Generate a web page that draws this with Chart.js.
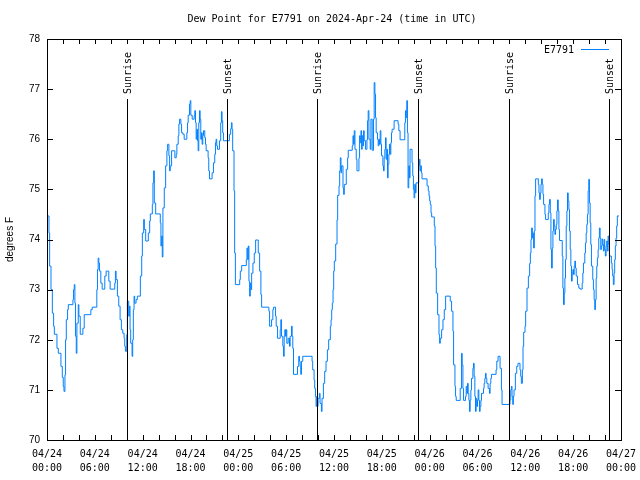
<!DOCTYPE html>
<html>
<head>
<meta charset="utf-8">
<script src="https://cdn.jsdelivr.net/npm/chart.js@4.4.1/dist/chart.umd.min.js"></script>
<style>
  body { margin: 0; background: #fff; }
</style>
</head>
<body>
<canvas id="grafica" width="640" height="480"></canvas>
<script>
// horas desde 04/24 00:00 UTC
const horas = [
  0.0, 0.25, 0.33, 0.5, 0.67, 0.83, 0.92, 1.25, 1.42, 1.75, 1.92, 2.04, 2.13, 2.25, 2.33, 2.42, 2.58, 2.67,
  3.25, 3.33, 3.42, 3.5, 3.58, 3.67, 3.75, 3.92, 4.0, 4.17, 4.5, 4.67, 5.5, 5.67, 6.25, 6.33, 6.42, 6.5,
  6.58, 6.75, 6.92, 7.25, 7.42, 7.75, 7.92, 8.5, 8.58, 8.67, 8.83, 9.0, 9.17, 9.33, 9.5, 9.67, 9.75, 9.83,
  10.0, 10.08, 10.25, 10.33, 10.42, 10.5, 10.67, 10.75, 10.83, 10.92, 11.0, 11.17, 11.33, 11.71, 11.88,
  11.96, 12.13, 12.21, 12.38, 12.71, 12.88, 12.96, 13.21, 13.29, 13.38, 13.46, 13.63, 14.21, 14.29, 14.38,
  14.46, 14.54, 14.71, 14.88, 15.04, 15.13, 15.29, 15.38, 15.46, 15.63, 16.04, 16.21, 16.29, 16.46, 16.54,
  16.63, 16.79, 16.88, 17.04, 17.21, 17.54, 17.63, 17.71, 17.88, 17.96, 18.04, 18.21, 18.46, 18.54, 18.63,
  18.71, 18.79, 18.88, 18.96, 19.04, 19.13, 19.21, 19.29, 19.38, 19.46, 19.54, 19.63, 19.79, 19.88, 19.96,
  20.21, 20.29, 20.38, 20.71, 20.88, 21.04, 21.13, 21.21, 21.29, 21.38, 21.63, 21.79, 21.88, 21.96, 22.04,
  22.13, 22.88, 23.04, 23.13, 23.21, 23.29, 23.46, 23.54, 23.63,
  24.17, 24.25, 24.42, 25.0, 25.08, 25.17, 25.25, 25.33, 25.42, 25.5, 25.58, 25.67, 25.83, 26.0, 26.17,
  26.5, 26.67, 26.83, 26.92, 27.83, 27.92, 28.17, 28.33, 28.42, 28.67, 28.75, 28.92, 29.25, 29.33, 29.42,
  29.58, 29.67, 29.75, 29.83, 29.92, 30.0, 30.08, 30.25, 30.42, 30.5, 30.67, 30.75, 30.83, 30.92, 31.42,
  31.58, 31.67, 31.75, 31.83, 31.92, 32.08, 33.25, 33.33, 33.5, 33.58, 33.67, 33.75, 33.83, 33.92, 34.0,
  34.17, 34.25, 34.42, 34.5, 34.67, 34.83, 35.0, 35.17, 35.33, 35.54, 35.63, 35.71, 35.79, 35.88, 35.96,
  36.04, 36.21, 36.38, 36.46, 36.63, 36.71, 36.79, 36.88, 36.96, 37.13, 37.21, 37.29, 37.54, 37.71, 37.79,
  38.29, 38.38, 38.46, 38.54, 38.63, 38.79, 38.88, 39.13, 39.21, 39.29, 39.38, 39.46, 39.54, 39.63, 39.71,
  39.79, 39.96, 40.13, 40.21, 40.29, 40.38, 40.54, 40.63, 40.79, 40.96, 41.04, 41.13, 41.21, 41.29, 41.46,
  41.54, 41.63, 41.71, 41.79, 41.88, 41.96, 42.13, 42.21, 42.29, 42.38, 42.46, 42.54, 42.63, 42.71, 42.79,
  42.88, 42.96, 43.04, 43.13, 43.21, 43.29, 43.54, 44.04, 44.13, 44.29, 44.88, 44.96, 45.04, 45.13, 45.21,
  45.29, 45.38, 45.46, 45.54, 45.79, 45.88, 45.96, 46.04, 46.13, 46.21, 46.29, 46.63, 46.71, 46.79, 46.88,
  46.96, 47.04, 47.67, 47.83, 47.92, 48.0, 48.08, 48.17, 48.25, 48.58, 48.67, 48.75, 48.83, 49.0, 49.17,
  49.25, 49.33, 49.5, 49.67, 49.83, 50.0, 50.58, 50.75, 50.92, 51.0, 51.17, 51.25, 51.33, 51.83, 52.0,
  52.08, 52.17, 52.25, 52.5, 52.58, 52.67, 52.75, 52.83, 52.92, 53.0, 53.08, 53.17, 53.25, 53.42, 53.5,
  53.58, 53.67, 53.75, 53.83, 53.92, 54.0, 54.08, 54.17, 54.25, 54.33, 54.42, 54.5, 54.75, 54.83, 54.92,
  55.0, 55.08, 55.17, 55.33, 55.5, 55.58, 55.67, 55.75, 56.33, 56.42, 56.58, 56.83, 57.0, 57.08, 58.08,
  58.17, 58.25, 58.33, 58.42, 58.5, 58.58, 58.75, 58.92, 59.08, 59.33, 59.42, 59.5, 59.63, 59.71, 59.79,
  59.96, 60.04, 60.21, 60.38, 60.54, 60.63, 60.71, 60.79, 60.88, 60.96, 61.04, 61.13, 61.21, 61.29, 61.63,
  61.71, 61.79, 61.88, 61.96, 62.04, 62.13, 62.21, 62.29, 62.46, 62.54, 62.88, 62.96, 63.04, 63.13, 63.21,
  63.29, 63.38, 63.46, 63.54, 63.63, 63.71, 63.79, 63.88, 63.96, 64.04, 64.13, 64.21, 64.29, 64.63, 64.71,
  64.79, 64.88, 64.96, 65.04, 65.13, 65.21, 65.29, 65.38, 65.46, 65.54, 65.63, 65.71, 65.79, 65.88, 65.96,
  66.04, 66.13, 66.21, 66.29, 66.38, 66.54, 66.71, 66.88, 67.13, 67.21, 67.29, 67.46, 67.54, 67.63, 67.71,
  67.79, 67.88, 67.96, 68.04, 68.13, 68.21, 68.29, 68.46, 68.54, 68.63, 68.71, 68.79, 68.88, 68.96, 69.04,
  69.13, 69.21, 69.29, 69.38, 69.46, 69.54, 69.63, 69.71, 69.79, 69.88, 69.96, 70.04, 70.13, 70.21, 70.29,
  70.38, 70.46, 70.54, 70.79, 70.88, 70.96, 71.04, 71.13, 71.21, 71.29, 71.38, 71.46, 71.54, 71.75
];

// punto de rocio, grados F
const rocio = [
  74.47, 74.13, 73.47, 73.0, 72.53, 72.27, 72.11, 71.83, 71.73, 71.47, 71.25, 71.07, 70.97, 71.3, 72.0, 72.4, 72.6, 72.7,
  72.8, 73.0, 73.1, 72.73, 72.07, 71.73, 72.33, 72.7, 72.47, 72.11, 72.23, 72.5, 72.6, 72.65, 73.0, 73.4, 73.63, 73.53,
  73.37, 73.13, 73.01, 73.27, 73.37, 73.17, 73.01, 73.13, 73.37, 73.2, 72.87, 72.67, 72.4, 72.2, 72.13, 72.03, 71.87, 71.77,
  72.1, 72.77, 72.47, 72.67, 72.2, 71.93, 71.67, 72.0, 72.6, 72.87, 72.73, 72.8, 72.87, 73.27, 73.67,
  74.13, 74.4, 74.2, 73.97, 74.13, 74.37, 74.51, 74.7, 75.13, 75.37, 74.73, 74.51, 74.33, 73.87, 74.07,
  73.65, 74.63, 75.03, 75.47, 75.77, 75.9, 75.67, 75.37, 75.47, 75.77, 75.63, 75.7, 75.9, 76.07, 76.3,
  76.4, 76.3, 76.13, 76.1, 76.0, 76.13, 76.33, 76.48, 76.7, 76.77, 76.48, 76.4, 76.47, 76.57, 76.33,
  76.0, 76.2, 75.97, 75.77, 76.33, 76.57, 76.4, 76.0, 76.13, 75.9, 76.07, 76.17, 76.03, 75.9, 75.77,
  75.63, 75.37, 75.21, 75.33, 75.53, 75.7, 75.93, 76.0, 75.87, 75.8, 75.97, 76.33, 76.55, 76.37, 76.13,
  75.97, 76.1, 76.21, 76.33, 76.2, 75.77, 74.97, 73.73, 73.1,
  73.2, 73.37, 73.48, 73.6, 73.83, 73.6, 73.87, 73.17, 72.87, 73.13, 73.0, 73.33, 73.53, 73.73, 73.99,
  73.73, 73.37, 72.9, 72.65, 72.57, 72.27, 72.4, 72.6, 72.65, 72.47, 72.27, 72.03, 72.2, 72.4, 72.07,
  71.87, 71.67, 72.07, 72.2, 72.07, 72.2, 71.93, 72.03, 71.87, 72.07, 72.27, 72.07, 71.83, 71.31, 71.47,
  71.67, 71.57, 71.47, 71.31, 71.57, 71.67, 71.57, 71.4, 71.2, 71.03, 70.87, 70.67, 70.87, 70.67, 70.83,
  70.93, 70.73, 70.57, 70.83, 71.13, 71.37, 71.57, 71.8, 72.0, 72.27, 72.4, 72.6, 72.73, 73.0, 73.37,
  73.57, 73.91, 74.39, 74.88, 75.07, 75.37, 75.63, 75.33, 75.47, 75.03, 74.9, 75.1, 75.4, 75.63, 75.78,
  75.87, 76.07, 75.9, 76.17, 75.8, 75.6, 75.37, 75.63, 76.07, 75.93, 76.17, 75.8, 76.07, 75.87, 76.17,
  75.97, 75.8, 75.99, 76.37, 76.57, 76.0, 75.8, 76.4, 75.78, 76.4, 77.13, 76.9, 76.43, 76.13, 76.0,
  75.87, 76.0, 75.9, 76.17, 75.9, 75.67, 75.47, 75.37, 75.63, 75.8, 76.03, 75.6, 75.8, 75.23, 75.5,
  75.7, 75.9, 75.7, 75.93, 76.13, 76.2, 76.37, 76.3, 76.17, 75.99, 76.33, 76.57, 76.43, 76.77, 76.13,
  75.03, 75.47, 75.23, 75.8, 75.53, 75.27, 75.0, 74.83, 75.1, 74.93, 75.13, 75.47, 75.6, 75.37, 75.47,
  75.33, 75.21, 75.07, 74.97, 74.87, 74.77, 74.7, 74.53, 74.45, 74.27, 73.87, 73.43, 72.93, 72.5, 72.1,
  71.93, 72.03, 72.2, 72.4, 72.6, 72.87, 72.77, 72.57, 72.17, 71.5, 71.07, 70.87, 70.79, 71.03, 71.73,
  71.5, 71.03, 70.79, 70.87, 71.07, 70.93, 71.13, 70.93, 70.79, 70.57, 70.8, 71.0, 71.23, 71.43, 71.53,
  71.27, 70.87, 70.57, 70.83, 70.67, 70.79, 71.0, 70.79, 70.57, 70.67, 70.79, 70.93, 71.03, 71.13, 71.23,
  71.33, 71.23, 71.13, 71.03, 70.93, 71.13, 71.23, 71.31, 71.4, 71.57, 71.67, 71.43, 71.0, 70.71, 70.8,
  71.0, 71.07, 70.87, 70.71, 70.87, 71.0, 71.33, 71.47, 71.53, 71.4, 71.27, 71.13, 71.4, 71.87, 72.15,
  72.27, 72.57, 73.03, 73.27, 73.52, 73.73, 74.0, 74.23, 74.03, 74.13, 73.83, 74.17, 74.87, 75.21, 75.1,
  74.93, 74.8, 74.93, 75.1, 75.21, 75.1, 74.9, 74.7, 74.5, 74.4, 74.53, 74.7, 74.8, 74.53, 73.8,
  73.43, 73.83, 74.17, 74.4, 74.27, 74.1, 74.2, 74.3, 74.57, 74.79, 74.57, 74.2, 73.98, 73.67, 73.03,
  72.7, 72.93, 73.23, 73.6, 74.27, 74.57, 74.93, 74.77, 74.6, 74.17, 73.8, 73.47, 73.17, 73.33, 73.4,
  73.3, 73.47, 73.57, 73.43, 73.27, 73.1, 73.03, 73.01, 73.13, 73.33, 73.53, 73.73, 73.93, 74.13, 74.3,
  74.5, 74.97, 75.2, 74.73, 74.33, 73.9, 73.47, 73.2, 73.0, 72.8, 72.6, 72.8, 73.23, 73.47, 73.63,
  73.8, 74.03, 74.23, 74.03, 73.8, 73.87, 74.01, 73.9, 73.77, 74.0, 73.8, 73.67, 73.87, 73.97, 73.77,
  74.07, 73.9, 73.67, 73.53, 73.4, 73.27, 73.1, 73.33, 73.6, 73.87, 74.03, 74.27, 74.47, 74.47
];

const etiquetasX = [
  "04/24 00:00", "04/24 06:00", "04/24 12:00", "04/24 18:00",
  "04/25 00:00", "04/25 06:00", "04/25 12:00", "04/25 18:00",
  "04/26 00:00", "04/26 06:00", "04/26 12:00", "04/26 18:00",
  "04/27 00:00"
];

const eventosHoras = [10.03, 22.53, 33.92, 46.53, 57.9, 70.53];
const eventosNombres = ["Sunrise", "Sunset", "Sunrise", "Sunset", "Sunrise", "Sunset"];

const titulo = "Dew Point for E7791 on 2024-Apr-24 (time in UTC)";
const nombreSerie = "E7791";
const colorLinea = "#0080ff";
const fuenteMono = '"DejaVu Sans Mono", monospace';

// marco, ticks hacia adentro, lineas de sol, titulo y leyenda
const decoracion = {
  id: "decoracion",
  afterDatasetsDraw(chart) {
    const { ctx, chartArea, scales } = chart;
    const x = scales.x;
    const y = scales.y;
    ctx.save();
    ctx.strokeStyle = "#000";
    ctx.lineWidth = 1;

    ctx.strokeRect(chartArea.left + 0.5, chartArea.top + 0.5,
      chartArea.right - chartArea.left, chartArea.bottom - chartArea.top);

    ctx.beginPath();
    for (let h = 0; h <= 72; h += 2) {
      const px = Math.round(x.getPixelForValue(h)) + 0.5;
      ctx.moveTo(px, chartArea.bottom);
      ctx.lineTo(px, chartArea.bottom - 5);
      ctx.moveTo(px, chartArea.top);
      ctx.lineTo(px, chartArea.top + 5);
    }
    for (let v = 70; v <= 78; v++) {
      const py = Math.round(y.getPixelForValue(v)) + 0.5;
      ctx.moveTo(chartArea.left, py);
      ctx.lineTo(chartArea.left + 6, py);
      ctx.moveTo(chartArea.right, py);
      ctx.lineTo(chartArea.right - 6, py);
    }
    ctx.stroke();

    // sunrise / sunset
    const topeLinea = Math.round(y.getPixelForValue(76.8));
    ctx.font = "10px " + fuenteMono;
    ctx.fillStyle = "#000";
    eventosHoras.forEach((h, i) => {
      const px = Math.round(x.getPixelForValue(h)) + 0.5;
      ctx.beginPath();
      ctx.moveTo(px, topeLinea);
      ctx.lineTo(px, chartArea.bottom);
      ctx.stroke();
      ctx.save();
      ctx.translate(px + 1, topeLinea - 5);
      ctx.rotate(-Math.PI / 2);
      ctx.textAlign = "left";
      ctx.textBaseline = "middle";
      ctx.fillText(eventosNombres[i], 0, 0);
      ctx.restore();
    });

    // titulo
    ctx.textAlign = "center";
    ctx.textBaseline = "middle";
    ctx.fillText(titulo, 332, 19);

    // leyenda
    ctx.textAlign = "right";
    ctx.fillText(nombreSerie, 574, 50);
    ctx.strokeStyle = colorLinea;
    ctx.beginPath();
    ctx.moveTo(581, 49.5);
    ctx.lineTo(609, 49.5);
    ctx.stroke();
    ctx.restore();
  }
};

function renderDeLaGrafica() {
  const puntos = horas.map((h, i) => ({ x: h, y: rocio[i] }));
  const configuracion = {
    type: "line",
    data: {
      datasets: [{
        label: nombreSerie,
        data: puntos,
        borderColor: colorLinea,
        borderWidth: 1,
        pointRadius: 0,
        stepped: true,
        fill: false
      }]
    },
    options: {
      responsive: false,
      animation: false,
      devicePixelRatio: 1,
      layout: { autoPadding: false, padding: { top: 39, right: 19, left: 0, bottom: 0 } },
      plugins: { legend: { display: false }, title: { display: false }, tooltip: { enabled: false } },
      scales: {
        x: {
          type: "linear",
          min: 0,
          max: 72,
          grid: { display: false, drawTicks: false },
          border: { display: false },
          ticks: {
            stepSize: 6,
            autoSkip: false,
            maxRotation: 0,
            padding: 7,
            color: "#000",
            font: { family: fuenteMono, size: 10, lineHeight: 1.4 },
            callback: (v) => {
              const i = Math.round(v / 6);
              return etiquetasX[i] ? etiquetasX[i].split(" ") : "";
            }
          },
          afterFit: (s) => {
            s.height = 40;
            s.paddingLeft = 0;
            s.paddingRight = 0;
          }
        },
        y: {
          min: 70,
          max: 78,
          grid: { display: false, drawTicks: false },
          border: { display: false },
          ticks: {
            stepSize: 1,
            padding: 7,
            color: "#000",
            font: { family: "Liberation Sans", size: 10 }
          },
          title: {
            display: true,
            text: "degrees F",
            color: "#000",
            font: { family: "Liberation Sans", size: 10 },
            padding: { top: 4, bottom: 0 }
          },
          afterFit: (s) => {
            s.width = 47;
            s.paddingTop = 0;
            s.paddingBottom = 0;
          }
        }
      }
    },
    plugins: [decoracion]
  };
  const graficaDOM = document.querySelector("#grafica");
  new Chart(graficaDOM, configuracion);
}

renderDeLaGrafica();
</script>
</body>
</html>
